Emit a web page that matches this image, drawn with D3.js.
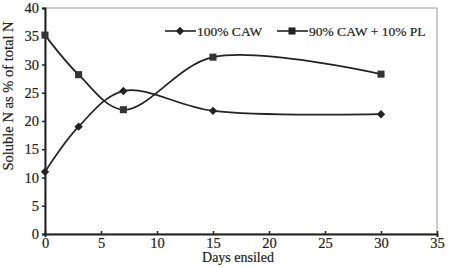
<!DOCTYPE html>
<html lang="en">
<head>
    <meta charset="UTF-8">
    <script src="https://d3js.org/d3.v7.min.js"></script>
    <style>
        body { margin: 0; background: white; }
        svg { display: block; font-family: "Liberation Serif", serif; }
    </style>
</head>
<body>
<script>
    // values
    const days = [0, 3, 7, 15, 30];
    const caw = [11, 19, 25.3, 21.8, 21.2];
    const cawPl = [35.2, 28.2, 22, 31.3, 28.3];
    const xTicks = [0, 5, 10, 15, 20, 25, 30, 35];
    const yTicks = [0, 5, 10, 15, 20, 25, 30, 35, 40];
    const seriesNames = ["100% CAW", "90% CAW + 10% PL"];

    const W = 450, H = 267;
    const svg = d3.select("body").append("svg").attr("width", W).attr("height", H);

    const x = d3.scaleLinear().domain([0, 35]).range([45, 437]);
    const y = d3.scaleLinear().domain([0, 40]).range([234, 8]);

    // thin outer frame
    svg.append("rect")
        .attr("x", x(0)).attr("y", y(40))
        .attr("width", x(35) - x(0)).attr("height", y(0) - y(40))
        .attr("fill", "none").attr("stroke", "#999").attr("stroke-width", 1);

    const xAxis = svg.append("g")
        .attr("transform", `translate(0,${y(0)})`)
        .call(d3.axisBottom(x).tickValues(xTicks).tickSize(3).tickPadding(1));
    const yAxis = svg.append("g")
        .attr("transform", `translate(${x(0)},0)`)
        .call(d3.axisLeft(y).tickValues(yTicks).tickSize(3).tickPadding(3));

    [xAxis, yAxis].forEach(g => {
        g.select(".domain").attr("stroke", "#222").attr("stroke-width", 2);
        g.selectAll(".tick line").attr("stroke", "#222").attr("stroke-width", 1.5);
        g.selectAll("text").attr("font-family", "Liberation Serif")
            .attr("font-size", 14.5).attr("fill", "#222")
            .attr("stroke", "#222").attr("stroke-width", 0.2);
    });
    xAxis.selectAll(".tick line").attr("y2", -3);

    const line = d3.line()
        .x((d, i) => x(days[i]))
        .y(d => y(d))
        .curve(d3.curveCatmullRom);

    [caw, cawPl].forEach(vals => {
        svg.append("path")
            .attr("d", line(vals))
            .attr("fill", "none").attr("stroke", "#222").attr("stroke-width", 1.7);
    });

    const diamond = d3.symbol().type(d3.symbolDiamond2).size(45);
    const square = d3.symbol().type(d3.symbolSquare).size(50);

    svg.selectAll(".dia").data(caw).enter().append("path")
        .attr("transform", (d, i) => `translate(${x(days[i])},${y(d)})`)
        .attr("d", diamond).attr("fill", "#222");
    svg.selectAll(".sq").data(cawPl).enter().append("path")
        .attr("transform", (d, i) => `translate(${x(days[i])},${y(d)})`)
        .attr("d", square).attr("fill", "#333");

    // legend
    const legend = svg.append("g").attr("font-size", 13.5).attr("fill", "#222")
        .attr("stroke-width", 0.2);
    const legendPos = [165, 277];
    [diamond, square].forEach((sym, i) => {
        const lx = legendPos[i], ly = 31;
        legend.append("line")
            .attr("x1", lx).attr("x2", lx + 31).attr("y1", ly).attr("y2", ly)
            .attr("stroke", "#222").attr("stroke-width", 1.6);
        legend.append("path")
            .attr("transform", `translate(${lx + 15},${ly})`)
            .attr("d", sym).attr("fill", "#222");
        legend.append("text")
            .attr("x", lx + 32).attr("y", ly + 4.5)
            .attr("stroke", "#222")
            .text(seriesNames[i]);
    });

    svg.append("text")
        .attr("x", x(17.5) - 3).attr("y", 262)
        .attr("text-anchor", "middle").attr("font-size", 14).attr("fill", "#222")
        .attr("stroke", "#222").attr("stroke-width", 0.2)
        .text("Days ensiled");

    svg.append("text")
        .attr("transform", "translate(13,96) rotate(-90)")
        .attr("text-anchor", "middle").attr("font-size", 14.5).attr("fill", "#222")
        .attr("stroke", "#222").attr("stroke-width", 0.2)
        .text("Soluble N as % of total N");
</script>
</body>
</html>
